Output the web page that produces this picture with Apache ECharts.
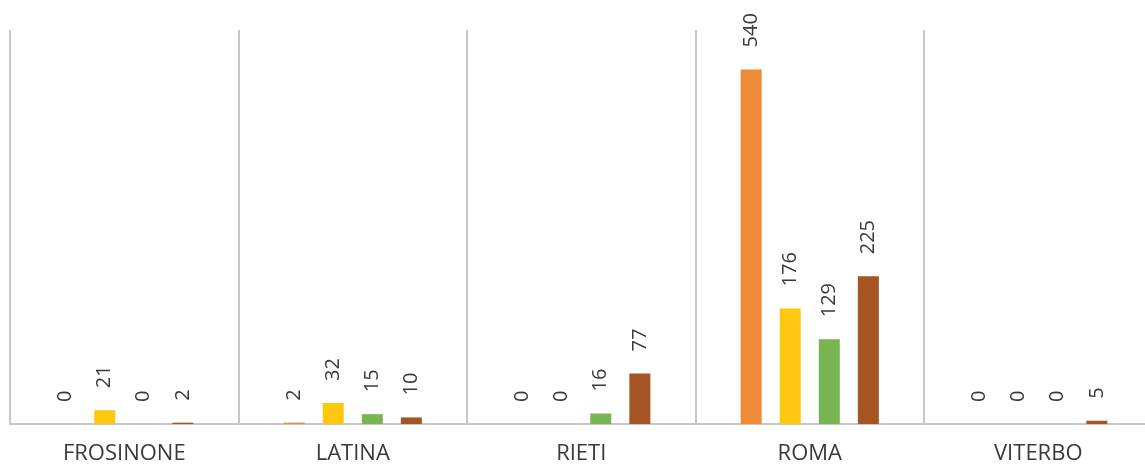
<!DOCTYPE html>
<html><head><meta charset="utf-8">
<script src="https://cdn.jsdelivr.net/npm/echarts@6/dist/echarts.min.js"></script>
<style>html,body{margin:0;padding:0;background:#fff}#c{width:1145px;height:465px}</style>
</head><body><div id="c"></div>
<script>
const categories = ['FROSINONE', 'LATINA', 'RIETI', 'ROMA', 'VITERBO'];
const series1 = [0, 2, 0, 540, 0];
const series2 = [21, 32, 0, 176, 0];
const series3 = [0, 15, 16, 129, 0];
const series4 = [2, 10, 77, 225, 5];
const colors = ['#EF8B38', '#FEC810', '#79B552', '#A55423'];
const FONT = '"Open Sans", "DejaVu Sans", sans-serif';

const chart = echarts.init(document.getElementById('c'), null, {renderer: 'canvas'});
const mk = (data, i) => ({
  type: 'bar', data: data, barWidth: 21, barGap: '86%',
  itemStyle: {color: colors[i]},
  label: {show: true, position: 'top', rotate: 90, align: 'left', verticalAlign: 'middle',
    distance: 22, color: '#3A3A3A', fontSize: 20, fontFamily: FONT},
  animation: false
});
chart.setOption({
  animation: false,
  grid: {left: 10, top: 30, width: 1142.5, height: 394, containLabel: false, outerBoundsMode: 'none'},
  xAxis: {
    type: 'category', data: categories,
    axisLine: {show: true, lineStyle: {color: '#C8C8C8', width: 2}},
    axisTick: {show: false},
    axisLabel: {color: '#3A3A3A', fontSize: 22, fontFamily: FONT, margin: 19},
    splitLine: {show: true, lineStyle: {color: '#C8C8C8', width: 2}}
  },
  yAxis: {type: 'value', min: 0, max: 600, show: false, splitLine: {show: false}},
  series: [mk(series1, 0), mk(series2, 1), mk(series3, 2), mk(series4, 3)]
});
</script></body></html>
